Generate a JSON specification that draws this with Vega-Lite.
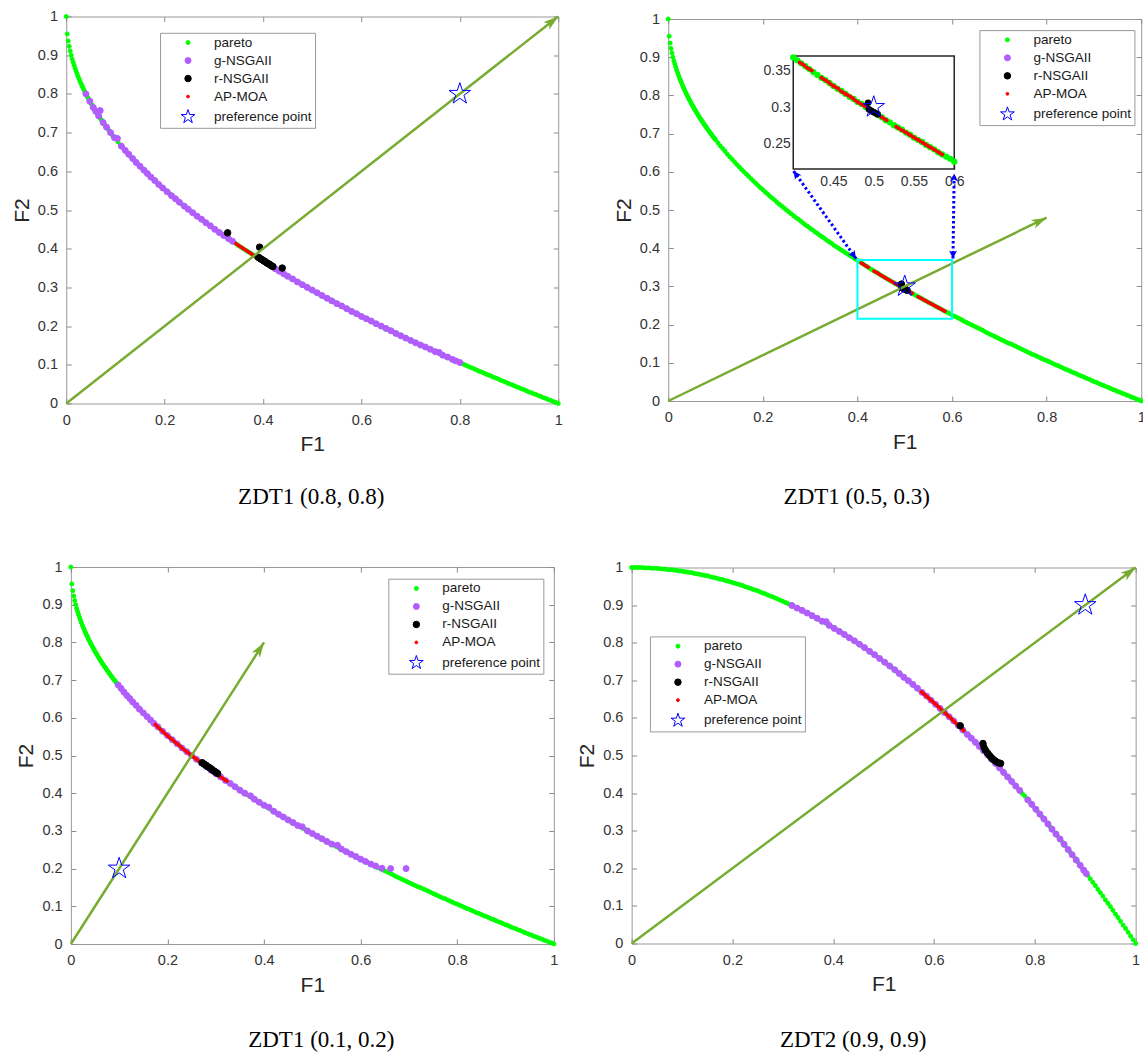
{
  "$schema": "https://vega.github.io/schema/vega-lite/v6.json",
  "background": "white",
  "padding": {"left": 10, "top": 7.5, "right": 0, "bottom": 0},
  "datasets": {
    "zdt1": [{"x":0,"y":1},{"x":0.002,"y":0.955},{"x":0.004,"y":0.937},{"x":0.006,"y":0.923},{"x":0.008,"y":0.911},{"x":0.01,"y":0.9},{"x":0.012,"y":0.89},{"x":0.014,"y":0.882},{"x":0.016,"y":0.874},{"x":0.018,"y":0.866},{"x":0.02,"y":0.859},{"x":0.022,"y":0.852},{"x":0.024,"y":0.845},{"x":0.026,"y":0.839},{"x":0.028,"y":0.833},{"x":0.03,"y":0.827},{"x":0.032,"y":0.821},{"x":0.034,"y":0.816},{"x":0.036,"y":0.81},{"x":0.038,"y":0.805},{"x":0.04,"y":0.8},{"x":0.042,"y":0.795},{"x":0.044,"y":0.79},{"x":0.046,"y":0.786},{"x":0.048,"y":0.781},{"x":0.05,"y":0.776},{"x":0.052,"y":0.772},{"x":0.054,"y":0.768},{"x":0.056,"y":0.763},{"x":0.058,"y":0.759},{"x":0.06,"y":0.755},{"x":0.062,"y":0.751},{"x":0.064,"y":0.747},{"x":0.066,"y":0.743},{"x":0.068,"y":0.739},{"x":0.07,"y":0.735},{"x":0.072,"y":0.732},{"x":0.074,"y":0.728},{"x":0.076,"y":0.724},{"x":0.078,"y":0.721},{"x":0.08,"y":0.717},{"x":0.082,"y":0.714},{"x":0.084,"y":0.71},{"x":0.086,"y":0.707},{"x":0.088,"y":0.703},{"x":0.09,"y":0.7},{"x":0.092,"y":0.697},{"x":0.094,"y":0.693},{"x":0.096,"y":0.69},{"x":0.098,"y":0.687},{"x":0.1,"y":0.684},{"x":0.105,"y":0.676},{"x":0.11,"y":0.668},{"x":0.115,"y":0.661},{"x":0.12,"y":0.654},{"x":0.125,"y":0.646},{"x":0.13,"y":0.639},{"x":0.135,"y":0.633},{"x":0.14,"y":0.626},{"x":0.145,"y":0.619},{"x":0.15,"y":0.613},{"x":0.155,"y":0.606},{"x":0.16,"y":0.6},{"x":0.165,"y":0.594},{"x":0.17,"y":0.588},{"x":0.175,"y":0.582},{"x":0.18,"y":0.576},{"x":0.185,"y":0.57},{"x":0.19,"y":0.564},{"x":0.195,"y":0.558},{"x":0.2,"y":0.553},{"x":0.205,"y":0.547},{"x":0.21,"y":0.542},{"x":0.215,"y":0.536},{"x":0.22,"y":0.531},{"x":0.225,"y":0.526},{"x":0.23,"y":0.52},{"x":0.235,"y":0.515},{"x":0.24,"y":0.51},{"x":0.245,"y":0.505},{"x":0.25,"y":0.5},{"x":0.255,"y":0.495},{"x":0.26,"y":0.49},{"x":0.265,"y":0.485},{"x":0.27,"y":0.48},{"x":0.275,"y":0.476},{"x":0.28,"y":0.471},{"x":0.285,"y":0.466},{"x":0.29,"y":0.461},{"x":0.295,"y":0.457},{"x":0.3,"y":0.452},{"x":0.305,"y":0.448},{"x":0.31,"y":0.443},{"x":0.315,"y":0.439},{"x":0.32,"y":0.434},{"x":0.325,"y":0.43},{"x":0.33,"y":0.426},{"x":0.335,"y":0.421},{"x":0.34,"y":0.417},{"x":0.345,"y":0.413},{"x":0.35,"y":0.408},{"x":0.355,"y":0.404},{"x":0.36,"y":0.4},{"x":0.365,"y":0.396},{"x":0.37,"y":0.392},{"x":0.375,"y":0.388},{"x":0.38,"y":0.384},{"x":0.385,"y":0.38},{"x":0.39,"y":0.376},{"x":0.395,"y":0.372},{"x":0.4,"y":0.368},{"x":0.405,"y":0.364},{"x":0.41,"y":0.36},{"x":0.415,"y":0.356},{"x":0.42,"y":0.352},{"x":0.425,"y":0.348},{"x":0.43,"y":0.344},{"x":0.435,"y":0.34},{"x":0.44,"y":0.337},{"x":0.445,"y":0.333},{"x":0.45,"y":0.329},{"x":0.455,"y":0.325},{"x":0.46,"y":0.322},{"x":0.465,"y":0.318},{"x":0.47,"y":0.314},{"x":0.475,"y":0.311},{"x":0.48,"y":0.307},{"x":0.485,"y":0.304},{"x":0.49,"y":0.3},{"x":0.495,"y":0.296},{"x":0.5,"y":0.293},{"x":0.505,"y":0.289},{"x":0.51,"y":0.286},{"x":0.515,"y":0.282},{"x":0.52,"y":0.279},{"x":0.525,"y":0.275},{"x":0.53,"y":0.272},{"x":0.535,"y":0.269},{"x":0.54,"y":0.265},{"x":0.545,"y":0.262},{"x":0.55,"y":0.258},{"x":0.555,"y":0.255},{"x":0.56,"y":0.252},{"x":0.565,"y":0.248},{"x":0.57,"y":0.245},{"x":0.575,"y":0.242},{"x":0.58,"y":0.238},{"x":0.585,"y":0.235},{"x":0.59,"y":0.232},{"x":0.595,"y":0.229},{"x":0.6,"y":0.225},{"x":0.605,"y":0.222},{"x":0.61,"y":0.219},{"x":0.615,"y":0.216},{"x":0.62,"y":0.213},{"x":0.625,"y":0.209},{"x":0.63,"y":0.206},{"x":0.635,"y":0.203},{"x":0.64,"y":0.2},{"x":0.645,"y":0.197},{"x":0.65,"y":0.194},{"x":0.655,"y":0.191},{"x":0.66,"y":0.188},{"x":0.665,"y":0.185},{"x":0.67,"y":0.181},{"x":0.675,"y":0.178},{"x":0.68,"y":0.175},{"x":0.685,"y":0.172},{"x":0.69,"y":0.169},{"x":0.695,"y":0.166},{"x":0.7,"y":0.163},{"x":0.705,"y":0.16},{"x":0.71,"y":0.157},{"x":0.715,"y":0.154},{"x":0.72,"y":0.151},{"x":0.725,"y":0.149},{"x":0.73,"y":0.146},{"x":0.735,"y":0.143},{"x":0.74,"y":0.14},{"x":0.745,"y":0.137},{"x":0.75,"y":0.134},{"x":0.755,"y":0.131},{"x":0.76,"y":0.128},{"x":0.765,"y":0.125},{"x":0.77,"y":0.122},{"x":0.775,"y":0.12},{"x":0.78,"y":0.117},{"x":0.785,"y":0.114},{"x":0.79,"y":0.111},{"x":0.795,"y":0.108},{"x":0.8,"y":0.106},{"x":0.805,"y":0.103},{"x":0.81,"y":0.1},{"x":0.815,"y":0.097},{"x":0.82,"y":0.094},{"x":0.825,"y":0.092},{"x":0.83,"y":0.089},{"x":0.835,"y":0.086},{"x":0.84,"y":0.083},{"x":0.845,"y":0.081},{"x":0.85,"y":0.078},{"x":0.855,"y":0.075},{"x":0.86,"y":0.073},{"x":0.865,"y":0.07},{"x":0.87,"y":0.067},{"x":0.875,"y":0.065},{"x":0.88,"y":0.062},{"x":0.885,"y":0.059},{"x":0.89,"y":0.057},{"x":0.895,"y":0.054},{"x":0.9,"y":0.051},{"x":0.905,"y":0.049},{"x":0.91,"y":0.046},{"x":0.915,"y":0.043},{"x":0.92,"y":0.041},{"x":0.925,"y":0.038},{"x":0.93,"y":0.036},{"x":0.935,"y":0.033},{"x":0.94,"y":0.03},{"x":0.945,"y":0.028},{"x":0.95,"y":0.025},{"x":0.955,"y":0.023},{"x":0.96,"y":0.02},{"x":0.965,"y":0.018},{"x":0.97,"y":0.015},{"x":0.975,"y":0.013},{"x":0.98,"y":0.01},{"x":0.985,"y":0.008},{"x":0.99,"y":0.005},{"x":0.995,"y":0.003},{"x":1,"y":0}],
    "zdt2": [{"x":0,"y":1},{"x":0.005,"y":1},{"x":0.01,"y":1},{"x":0.015,"y":1},{"x":0.02,"y":1},{"x":0.025,"y":0.999},{"x":0.03,"y":0.999},{"x":0.035,"y":0.999},{"x":0.04,"y":0.998},{"x":0.045,"y":0.998},{"x":0.05,"y":0.998},{"x":0.055,"y":0.997},{"x":0.06,"y":0.996},{"x":0.065,"y":0.996},{"x":0.07,"y":0.995},{"x":0.075,"y":0.994},{"x":0.08,"y":0.994},{"x":0.085,"y":0.993},{"x":0.09,"y":0.992},{"x":0.095,"y":0.991},{"x":0.1,"y":0.99},{"x":0.105,"y":0.989},{"x":0.11,"y":0.988},{"x":0.115,"y":0.987},{"x":0.12,"y":0.986},{"x":0.125,"y":0.984},{"x":0.13,"y":0.983},{"x":0.135,"y":0.982},{"x":0.14,"y":0.98},{"x":0.145,"y":0.979},{"x":0.15,"y":0.978},{"x":0.155,"y":0.976},{"x":0.16,"y":0.974},{"x":0.165,"y":0.973},{"x":0.17,"y":0.971},{"x":0.175,"y":0.969},{"x":0.18,"y":0.968},{"x":0.185,"y":0.966},{"x":0.19,"y":0.964},{"x":0.195,"y":0.962},{"x":0.2,"y":0.96},{"x":0.205,"y":0.958},{"x":0.21,"y":0.956},{"x":0.215,"y":0.954},{"x":0.22,"y":0.952},{"x":0.225,"y":0.949},{"x":0.23,"y":0.947},{"x":0.235,"y":0.945},{"x":0.24,"y":0.942},{"x":0.245,"y":0.94},{"x":0.25,"y":0.938},{"x":0.255,"y":0.935},{"x":0.26,"y":0.932},{"x":0.265,"y":0.93},{"x":0.27,"y":0.927},{"x":0.275,"y":0.924},{"x":0.28,"y":0.922},{"x":0.285,"y":0.919},{"x":0.29,"y":0.916},{"x":0.295,"y":0.913},{"x":0.3,"y":0.91},{"x":0.305,"y":0.907},{"x":0.31,"y":0.904},{"x":0.315,"y":0.901},{"x":0.32,"y":0.898},{"x":0.325,"y":0.894},{"x":0.33,"y":0.891},{"x":0.335,"y":0.888},{"x":0.34,"y":0.884},{"x":0.345,"y":0.881},{"x":0.35,"y":0.878},{"x":0.355,"y":0.874},{"x":0.36,"y":0.87},{"x":0.365,"y":0.867},{"x":0.37,"y":0.863},{"x":0.375,"y":0.859},{"x":0.38,"y":0.856},{"x":0.385,"y":0.852},{"x":0.39,"y":0.848},{"x":0.395,"y":0.844},{"x":0.4,"y":0.84},{"x":0.405,"y":0.836},{"x":0.41,"y":0.832},{"x":0.415,"y":0.828},{"x":0.42,"y":0.824},{"x":0.425,"y":0.819},{"x":0.43,"y":0.815},{"x":0.435,"y":0.811},{"x":0.44,"y":0.806},{"x":0.445,"y":0.802},{"x":0.45,"y":0.798},{"x":0.455,"y":0.793},{"x":0.46,"y":0.788},{"x":0.465,"y":0.784},{"x":0.47,"y":0.779},{"x":0.475,"y":0.774},{"x":0.48,"y":0.77},{"x":0.485,"y":0.765},{"x":0.49,"y":0.76},{"x":0.495,"y":0.755},{"x":0.5,"y":0.75},{"x":0.505,"y":0.745},{"x":0.51,"y":0.74},{"x":0.515,"y":0.735},{"x":0.52,"y":0.73},{"x":0.525,"y":0.724},{"x":0.53,"y":0.719},{"x":0.535,"y":0.714},{"x":0.54,"y":0.708},{"x":0.545,"y":0.703},{"x":0.55,"y":0.698},{"x":0.555,"y":0.692},{"x":0.56,"y":0.686},{"x":0.565,"y":0.681},{"x":0.57,"y":0.675},{"x":0.575,"y":0.669},{"x":0.58,"y":0.664},{"x":0.585,"y":0.658},{"x":0.59,"y":0.652},{"x":0.595,"y":0.646},{"x":0.6,"y":0.64},{"x":0.605,"y":0.634},{"x":0.61,"y":0.628},{"x":0.615,"y":0.622},{"x":0.62,"y":0.616},{"x":0.625,"y":0.609},{"x":0.63,"y":0.603},{"x":0.635,"y":0.597},{"x":0.64,"y":0.59},{"x":0.645,"y":0.584},{"x":0.65,"y":0.578},{"x":0.655,"y":0.571},{"x":0.66,"y":0.564},{"x":0.665,"y":0.558},{"x":0.67,"y":0.551},{"x":0.675,"y":0.544},{"x":0.68,"y":0.538},{"x":0.685,"y":0.531},{"x":0.69,"y":0.524},{"x":0.695,"y":0.517},{"x":0.7,"y":0.51},{"x":0.705,"y":0.503},{"x":0.71,"y":0.496},{"x":0.715,"y":0.489},{"x":0.72,"y":0.482},{"x":0.725,"y":0.474},{"x":0.73,"y":0.467},{"x":0.735,"y":0.46},{"x":0.74,"y":0.452},{"x":0.745,"y":0.445},{"x":0.75,"y":0.438},{"x":0.755,"y":0.43},{"x":0.76,"y":0.422},{"x":0.765,"y":0.415},{"x":0.77,"y":0.407},{"x":0.775,"y":0.399},{"x":0.78,"y":0.392},{"x":0.785,"y":0.384},{"x":0.79,"y":0.376},{"x":0.795,"y":0.368},{"x":0.8,"y":0.36},{"x":0.805,"y":0.352},{"x":0.81,"y":0.344},{"x":0.815,"y":0.336},{"x":0.82,"y":0.328},{"x":0.825,"y":0.319},{"x":0.83,"y":0.311},{"x":0.835,"y":0.303},{"x":0.84,"y":0.294},{"x":0.845,"y":0.286},{"x":0.85,"y":0.278},{"x":0.855,"y":0.269},{"x":0.86,"y":0.26},{"x":0.865,"y":0.252},{"x":0.87,"y":0.243},{"x":0.875,"y":0.234},{"x":0.88,"y":0.226},{"x":0.885,"y":0.217},{"x":0.89,"y":0.208},{"x":0.895,"y":0.199},{"x":0.9,"y":0.19},{"x":0.905,"y":0.181},{"x":0.91,"y":0.172},{"x":0.915,"y":0.163},{"x":0.92,"y":0.154},{"x":0.925,"y":0.144},{"x":0.93,"y":0.135},{"x":0.935,"y":0.126},{"x":0.94,"y":0.116},{"x":0.945,"y":0.107},{"x":0.95,"y":0.098},{"x":0.955,"y":0.088},{"x":0.96,"y":0.078},{"x":0.965,"y":0.069},{"x":0.97,"y":0.059},{"x":0.975,"y":0.049},{"x":0.98,"y":0.04},{"x":0.985,"y":0.03},{"x":0.99,"y":0.02},{"x":0.995,"y":0.01},{"x":1,"y":0}],
    "zdt1_05_03_apmoa": [{"x":0.408,"y":0.361},{"x":0.411,"y":0.359},{"x":0.414,"y":0.357},{"x":0.417,"y":0.354},{"x":0.42,"y":0.352},{"x":0.423,"y":0.35},{"x":0.435,"y":0.34},{"x":0.438,"y":0.338},{"x":0.441,"y":0.336},{"x":0.444,"y":0.334},{"x":0.447,"y":0.331},{"x":0.45,"y":0.329},{"x":0.453,"y":0.327},{"x":0.456,"y":0.325},{"x":0.459,"y":0.322},{"x":0.462,"y":0.32},{"x":0.465,"y":0.318},{"x":0.468,"y":0.316},{"x":0.471,"y":0.314},{"x":0.474,"y":0.312},{"x":0.477,"y":0.309},{"x":0.48,"y":0.307},{"x":0.483,"y":0.305},{"x":0.486,"y":0.303},{"x":0.489,"y":0.301},{"x":0.492,"y":0.299},{"x":0.495,"y":0.296},{"x":0.498,"y":0.294},{"x":0.501,"y":0.292},{"x":0.504,"y":0.29},{"x":0.507,"y":0.288},{"x":0.51,"y":0.286},{"x":0.513,"y":0.284},{"x":0.516,"y":0.282},{"x":0.528,"y":0.273},{"x":0.531,"y":0.271},{"x":0.534,"y":0.269},{"x":0.537,"y":0.267},{"x":0.54,"y":0.265},{"x":0.543,"y":0.263},{"x":0.546,"y":0.261},{"x":0.549,"y":0.259},{"x":0.552,"y":0.257},{"x":0.555,"y":0.255},{"x":0.558,"y":0.253},{"x":0.561,"y":0.251},{"x":0.564,"y":0.249},{"x":0.567,"y":0.247},{"x":0.57,"y":0.245},{"x":0.573,"y":0.243},{"x":0.576,"y":0.241},{"x":0.579,"y":0.239},{"x":0.582,"y":0.237},{"x":0.585,"y":0.235}],
    "zdt1_05_03_rnsga": [{"x":0.493,"y":0.306},{"x":0.494,"y":0.297},{"x":0.497,"y":0.295},{"x":0.5,"y":0.293},{"x":0.503,"y":0.291},{"x":0.505,"y":0.29}],
    "zdt1_05_03_gnsga": [{"x":0.498,"y":0.294},{"x":0.502,"y":0.292}]
  },
  "vconcat": [
    {
      "hconcat": [
        {
          "width": 492, "height": 387,
          "title": {"text": "ZDT1 (0.8, 0.8)", "orient": "bottom", "anchor": "middle", "frame": "group", "offset": 31, "dx": -1},
          "layer": [
            {"data": {"name": "zdt1"}, "mark": {"type": "point", "filled": true, "opacity": 1, "strokeWidth": 1},
             "encoding": {
               "x": {"field": "x", "type": "quantitative", "scale": {"domain": [0, 1], "nice": false}, "axis": null},
               "y": {"field": "y", "type": "quantitative", "scale": {"domain": [0, 1], "nice": false}, "axis": null},
               "fill": {"datum": "pareto", "type": "nominal", "scale": {"domain": ["pareto","g-NSGAII","r-NSGAII","AP-MOA","preference point"], "range": ["#00ff00","#b35cff","#000000","#ff0000","transparent"]}, "legend": {"orient": "none", "legendX": 93.8, "legendY": 16.3, "title": null, "direction": "vertical"}},
               "stroke": {"datum": "pareto", "type": "nominal", "scale": {"domain": ["pareto","g-NSGAII","r-NSGAII","AP-MOA","preference point"], "range": ["#00ff00","#b35cff","#000000","#ff0000","#0000ff"]}, "legend": {"orient": "none", "legendX": 93.8, "legendY": 16.3, "title": null, "direction": "vertical"}},
               "shape": {"datum": "pareto", "type": "nominal", "scale": {"domain": ["pareto","g-NSGAII","r-NSGAII","AP-MOA","preference point"], "range": ["circle","circle","circle","circle","M0,-1L0.225,-0.309L0.951,-0.309L0.363,0.118L0.588,0.809L0,0.382L-0.588,0.809L-0.363,0.118L-0.951,-0.309L-0.225,-0.309Z"]}, "legend": {"orient": "none", "legendX": 93.8, "legendY": 16.3, "title": null, "direction": "vertical"}},
               "size": {"datum": "pareto", "type": "nominal", "scale": {"type": "ordinal", "domain": ["pareto","g-NSGAII","r-NSGAII","AP-MOA","preference point"], "range": [16,36,42,8,210]}, "legend": {"orient": "none", "legendX": 93.8, "legendY": 16.3, "title": null, "direction": "vertical"}}
             }},
            {"data": {"values": [{"x":0.04,"y":0.8},{"x":0.048,"y":0.781},{"x":0.055,"y":0.765},{"x":0.06,"y":0.755},{"x":0.066,"y":0.743},{"x":0.069,"y":0.757},{"x":0.075,"y":0.726},{"x":0.082,"y":0.714},{"x":0.09,"y":0.7},{"x":0.098,"y":0.687},{"x":0.104,"y":0.685},{"x":0.112,"y":0.665},{"x":0.12,"y":0.654},{"x":0.127,"y":0.644},{"x":0.135,"y":0.633},{"x":0.142,"y":0.623},{"x":0.15,"y":0.613},{"x":0.158,"y":0.603},{"x":0.165,"y":0.594},{"x":0.172,"y":0.585},{"x":0.18,"y":0.576},{"x":0.188,"y":0.566},{"x":0.196,"y":0.557},{"x":0.205,"y":0.547},{"x":0.214,"y":0.537},{"x":0.222,"y":0.529},{"x":0.23,"y":0.52},{"x":0.24,"y":0.51},{"x":0.248,"y":0.502},{"x":0.257,"y":0.493},{"x":0.266,"y":0.484},{"x":0.275,"y":0.476},{"x":0.284,"y":0.467},{"x":0.293,"y":0.459},{"x":0.302,"y":0.45},{"x":0.311,"y":0.442},{"x":0.32,"y":0.434},{"x":0.33,"y":0.426},{"x":0.338,"y":0.419},{"x":0.425,"y":0.348},{"x":0.433,"y":0.342},{"x":0.442,"y":0.335},{"x":0.45,"y":0.329},{"x":0.46,"y":0.322},{"x":0.47,"y":0.314},{"x":0.48,"y":0.307},{"x":0.49,"y":0.3},{"x":0.5,"y":0.293},{"x":0.51,"y":0.286},{"x":0.52,"y":0.279},{"x":0.53,"y":0.272},{"x":0.54,"y":0.265},{"x":0.55,"y":0.258},{"x":0.56,"y":0.252},{"x":0.57,"y":0.245},{"x":0.58,"y":0.238},{"x":0.59,"y":0.232},{"x":0.6,"y":0.225},{"x":0.61,"y":0.219},{"x":0.62,"y":0.213},{"x":0.63,"y":0.206},{"x":0.64,"y":0.2},{"x":0.65,"y":0.194},{"x":0.66,"y":0.188},{"x":0.67,"y":0.181},{"x":0.68,"y":0.175},{"x":0.69,"y":0.169},{"x":0.7,"y":0.163},{"x":0.71,"y":0.157},{"x":0.72,"y":0.151},{"x":0.73,"y":0.146},{"x":0.74,"y":0.14},{"x":0.75,"y":0.134},{"x":0.758,"y":0.132},{"x":0.765,"y":0.125},{"x":0.775,"y":0.12},{"x":0.785,"y":0.114},{"x":0.792,"y":0.11},{"x":0.8,"y":0.106}]},
             "mark": {"type": "point", "filled": true, "opacity": 1, "strokeWidth": 1},
             "encoding": {"x": {"field": "x", "type": "quantitative", "axis": null}, "y": {"field": "y", "type": "quantitative", "axis": null},
               "fill": {"datum": "g-NSGAII", "type": "nominal"}, "stroke": {"datum": "g-NSGAII", "type": "nominal"}, "shape": {"datum": "g-NSGAII", "type": "nominal"},
               "size": {"datum": "g-NSGAII", "type": "nominal", "scale": {"type": "ordinal", "domain": ["pareto","g-NSGAII","r-NSGAII","AP-MOA","preference point"], "range": [16,36,42,8,210]}}}},
            {"data": {"values": [{"x":0.345,"y":0.413},{"x":0.348,"y":0.41},{"x":0.351,"y":0.408},{"x":0.354,"y":0.405},{"x":0.357,"y":0.403},{"x":0.36,"y":0.4},{"x":0.363,"y":0.398},{"x":0.366,"y":0.395},{"x":0.369,"y":0.393},{"x":0.372,"y":0.39},{"x":0.375,"y":0.388},{"x":0.378,"y":0.385},{"x":0.381,"y":0.383},{"x":0.384,"y":0.38},{"x":0.387,"y":0.378},{"x":0.39,"y":0.376},{"x":0.393,"y":0.373},{"x":0.396,"y":0.371},{"x":0.399,"y":0.368},{"x":0.402,"y":0.366},{"x":0.405,"y":0.364},{"x":0.408,"y":0.361},{"x":0.411,"y":0.359},{"x":0.414,"y":0.357},{"x":0.417,"y":0.354},{"x":0.42,"y":0.352},{"x":0.423,"y":0.35}]},
             "mark": {"type": "point", "filled": true, "opacity": 1, "strokeWidth": 1},
             "encoding": {"x": {"field": "x", "type": "quantitative", "axis": null}, "y": {"field": "y", "type": "quantitative", "axis": null},
               "fill": {"datum": "AP-MOA", "type": "nominal"}, "stroke": {"datum": "AP-MOA", "type": "nominal"}, "shape": {"datum": "AP-MOA", "type": "nominal"},
               "size": {"datum": "AP-MOA", "type": "nominal", "scale": {"type": "ordinal", "domain": ["pareto","g-NSGAII","r-NSGAII","AP-MOA","preference point"], "range": [16,36,42,8,210]}}}},
            {"data": {"values": [{"x":0.328,"y":0.441},{"x":0.393,"y":0.404},{"x":0.439,"y":0.35},{"x":0.39,"y":0.378},{"x":0.393,"y":0.376},{"x":0.396,"y":0.373},{"x":0.399,"y":0.371},{"x":0.402,"y":0.368},{"x":0.405,"y":0.366},{"x":0.408,"y":0.363},{"x":0.411,"y":0.361},{"x":0.414,"y":0.359},{"x":0.417,"y":0.356},{"x":0.42,"y":0.354}]},
             "mark": {"type": "point", "filled": true, "opacity": 1, "strokeWidth": 1},
             "encoding": {"x": {"field": "x", "type": "quantitative", "axis": null}, "y": {"field": "y", "type": "quantitative", "axis": null},
               "fill": {"datum": "r-NSGAII", "type": "nominal"}, "stroke": {"datum": "r-NSGAII", "type": "nominal"}, "shape": {"datum": "r-NSGAII", "type": "nominal"},
               "size": {"datum": "r-NSGAII", "type": "nominal", "scale": {"type": "ordinal", "domain": ["pareto","g-NSGAII","r-NSGAII","AP-MOA","preference point"], "range": [16,36,42,8,210]}}}},
            {"data": {"values": [{"x":0,"y":0},{"x":1,"y":1}]},
             "mark": {"type": "line", "color": "#77ac30", "strokeWidth": 2.5},
             "encoding": {
               "x": {"field": "x", "type": "quantitative", "axis": {"orient": "bottom", "values": [0,0.2,0.4,0.6,0.8,1], "format": "~g", "title": "F1", "tickSize": -5, "labelPadding": 14.5, "titlePadding": 7}},
               "y": {"field": "y", "type": "quantitative", "axis": {"orient": "left", "values": [0,0.1,0.2,0.3,0.4,0.5,0.6,0.7,0.8,0.9,1], "format": "~g", "title": "F2", "tickSize": -5, "labelPadding": 13.7, "titlePadding": 5}}}},
            {"data": {"values": [{"x":1,"y":1}]},
             "mark": {"type": "point", "shape": "M0,0L0.6,1.9L0,1.4L-0.6,1.9Z", "size": 256, "angle": 51.8, "filled": true, "color": "#77ac30", "opacity": 1, "strokeWidth": 0},
             "encoding": {
               "x": {"field": "x", "type": "quantitative", "axis": {"orient": "top", "values": [0,0.2,0.4,0.6,0.8,1], "labels": false, "title": null, "tickSize": -5, "minExtent": 0}},
               "y": {"field": "y", "type": "quantitative", "axis": {"orient": "right", "values": [0,0.1,0.2,0.3,0.4,0.5,0.6,0.7,0.8,0.9,1], "labels": false, "title": null, "tickSize": -5, "minExtent": 0}}}},
            {"data": {"values": [{"x":0.8,"y":0.8}]},
             "mark": {"type": "point", "filled": true, "opacity": 1, "size": 510, "strokeWidth": 1},
             "encoding": {"x": {"field": "x", "type": "quantitative", "axis": null}, "y": {"field": "y", "type": "quantitative", "axis": null},
               "fill": {"datum": "preference point", "type": "nominal"}, "stroke": {"datum": "preference point", "type": "nominal"}, "shape": {"datum": "preference point", "type": "nominal"}}}
          ],
          "resolve": {"axis": {"x": "independent", "y": "independent"}}
        },
        {
          "width": 473, "height": 382,
          "title": {"text": "ZDT1 (0.5, 0.3)", "orient": "bottom", "anchor": "middle", "frame": "group", "offset": 34, "dx": -48},
          "layer": [
            {
              "layer": [
                {"data": {"name": "zdt1"}, "mark": {"type": "point", "filled": true, "opacity": 1, "strokeWidth": 1},
                 "encoding": {
                   "x": {"field": "x", "type": "quantitative", "scale": {"domain": [0, 1], "nice": false}, "axis": null},
                   "y": {"field": "y", "type": "quantitative", "scale": {"domain": [0, 1], "nice": false}, "axis": null},
                   "fill": {"datum": "pareto", "type": "nominal", "scale": {"domain": ["pareto","g-NSGAII","r-NSGAII","AP-MOA","preference point"], "range": ["#00ff00","#b35cff","#000000","#ff0000","transparent"]}, "legend": {"orient": "none", "legendX": 311.2, "legendY": 11.1, "title": null, "direction": "vertical"}},
                   "stroke": {"datum": "pareto", "type": "nominal", "scale": {"domain": ["pareto","g-NSGAII","r-NSGAII","AP-MOA","preference point"], "range": ["#00ff00","#b35cff","#000000","#ff0000","#0000ff"]}, "legend": {"orient": "none", "legendX": 311.2, "legendY": 11.1, "title": null, "direction": "vertical"}},
                   "shape": {"datum": "pareto", "type": "nominal", "scale": {"domain": ["pareto","g-NSGAII","r-NSGAII","AP-MOA","preference point"], "range": ["circle","circle","circle","circle","M0,-1L0.225,-0.309L0.951,-0.309L0.363,0.118L0.588,0.809L0,0.382L-0.588,0.809L-0.363,0.118L-0.951,-0.309L-0.225,-0.309Z"]}, "legend": {"orient": "none", "legendX": 311.2, "legendY": 11.1, "title": null, "direction": "vertical"}},
                   "size": {"datum": "pareto", "type": "nominal", "scale": {"type": "ordinal", "domain": ["pareto","g-NSGAII","r-NSGAII","AP-MOA","preference point"], "range": [16,36,42,8,210]}, "legend": {"orient": "none", "legendX": 311.2, "legendY": 11.1, "title": null, "direction": "vertical"}}
                 }},
                {"data": {"name": "zdt1_05_03_gnsga"},
                 "mark": {"type": "point", "filled": true, "opacity": 1, "strokeWidth": 1},
                 "encoding": {"x": {"field": "x", "type": "quantitative", "axis": null}, "y": {"field": "y", "type": "quantitative", "axis": null},
                   "fill": {"datum": "g-NSGAII", "type": "nominal"}, "stroke": {"datum": "g-NSGAII", "type": "nominal"}, "shape": {"datum": "g-NSGAII", "type": "nominal"},
                   "size": {"datum": "g-NSGAII", "type": "nominal", "scale": {"type": "ordinal", "domain": ["pareto","g-NSGAII","r-NSGAII","AP-MOA","preference point"], "range": [16,36,42,8,210]}}}},
                {"data": {"name": "zdt1_05_03_apmoa"},
                 "mark": {"type": "point", "filled": true, "opacity": 1, "strokeWidth": 1},
                 "encoding": {"x": {"field": "x", "type": "quantitative", "axis": null}, "y": {"field": "y", "type": "quantitative", "axis": null},
                   "fill": {"datum": "AP-MOA", "type": "nominal"}, "stroke": {"datum": "AP-MOA", "type": "nominal"}, "shape": {"datum": "AP-MOA", "type": "nominal"},
                   "size": {"datum": "AP-MOA", "type": "nominal", "scale": {"type": "ordinal", "domain": ["pareto","g-NSGAII","r-NSGAII","AP-MOA","preference point"], "range": [16,36,42,8,210]}}}},
                {"data": {"name": "zdt1_05_03_rnsga"},
                 "mark": {"type": "point", "filled": true, "opacity": 1, "strokeWidth": 1},
                 "encoding": {"x": {"field": "x", "type": "quantitative", "axis": null}, "y": {"field": "y", "type": "quantitative", "axis": null},
                   "fill": {"datum": "r-NSGAII", "type": "nominal"}, "stroke": {"datum": "r-NSGAII", "type": "nominal"}, "shape": {"datum": "r-NSGAII", "type": "nominal"},
                   "size": {"datum": "r-NSGAII", "type": "nominal", "scale": {"type": "ordinal", "domain": ["pareto","g-NSGAII","r-NSGAII","AP-MOA","preference point"], "range": [16,36,42,8,210]}}}},
                {"data": {"values": [{"x":0,"y":0},{"x":0.8,"y":0.48}]},
                 "mark": {"type": "line", "color": "#77ac30", "strokeWidth": 2.5},
                 "encoding": {
                   "x": {"field": "x", "type": "quantitative", "axis": {"orient": "bottom", "values": [0,0.2,0.4,0.6,0.8,1], "format": "~g", "title": "F1", "tickSize": -5, "labelPadding": 14.5, "titlePadding": 7}},
                   "y": {"field": "y", "type": "quantitative", "axis": {"orient": "left", "values": [0,0.1,0.2,0.3,0.4,0.5,0.6,0.7,0.8,0.9,1], "format": "~g", "title": "F2", "tickSize": -5, "labelPadding": 13.7, "titlePadding": 5}}}},
                {"data": {"values": [{"x":0.8,"y":0.48}]},
                 "mark": {"type": "point", "shape": "M0,0L0.6,1.9L0,1.4L-0.6,1.9Z", "size": 256, "angle": 64.1, "filled": true, "color": "#77ac30", "opacity": 1, "strokeWidth": 0},
                 "encoding": {
                   "x": {"field": "x", "type": "quantitative", "axis": {"orient": "top", "values": [0,0.2,0.4,0.6,0.8,1], "labels": false, "title": null, "tickSize": -5, "minExtent": 0}},
                   "y": {"field": "y", "type": "quantitative", "axis": {"orient": "right", "values": [0,0.1,0.2,0.3,0.4,0.5,0.6,0.7,0.8,0.9,1], "labels": false, "title": null, "tickSize": -5, "minExtent": 0}}}},
                {"data": {"values": [{"x":0.5,"y":0.3}]},
                 "mark": {"type": "point", "filled": true, "opacity": 1, "size": 510, "strokeWidth": 1},
                 "encoding": {"x": {"field": "x", "type": "quantitative", "axis": null}, "y": {"field": "y", "type": "quantitative", "axis": null},
                   "fill": {"datum": "preference point", "type": "nominal"}, "stroke": {"datum": "preference point", "type": "nominal"}, "shape": {"datum": "preference point", "type": "nominal"}}},
                {"data": {"values": [{"x":0.4,"x2":0.6,"y":0.215,"y2":0.369}]},
                 "mark": {"type": "rect", "filled": false, "stroke": "#00ffff", "strokeWidth": 2},
                 "encoding": {"x": {"field": "x", "type": "quantitative", "axis": null}, "x2": {"field": "x2"}, "y": {"field": "y", "type": "quantitative", "axis": null}, "y2": {"field": "y2"}}},
                {"data": {"values": [{"x":0.265,"y":0.602},{"x":0.397,"y":0.373}]},
                 "mark": {"type": "line", "color": "#0000ff", "strokeWidth": 3, "strokeDash": [2.5, 2.5]},
                 "encoding": {"x": {"field": "x", "type": "quantitative", "axis": null}, "y": {"field": "y", "type": "quantitative", "axis": null}}},
                {"data": {"values": [{"x":0.6045,"y":0.5955},{"x":0.602,"y":0.373}]},
                 "mark": {"type": "line", "color": "#0000ff", "strokeWidth": 3, "strokeDash": [2.5, 2.5]},
                 "encoding": {"x": {"field": "x", "type": "quantitative", "axis": null}, "y": {"field": "y", "type": "quantitative", "axis": null}}},
                {"data": {"values": [{"x":0.265,"y":0.602}]},
                 "mark": {"type": "point", "shape": "M0,0L0.8,1.6L0,1.2L-0.8,1.6Z", "size": 100, "angle": -35.6, "filled": true, "color": "#0000ff", "opacity": 1, "strokeWidth": 0},
                 "encoding": {"x": {"field": "x", "type": "quantitative", "axis": null}, "y": {"field": "y", "type": "quantitative", "axis": null}}},
                {"data": {"values": [{"x":0.397,"y":0.373}]},
                 "mark": {"type": "point", "shape": "M0,0L0.8,1.6L0,1.2L-0.8,1.6Z", "size": 100, "angle": 144.4, "filled": true, "color": "#0000ff", "opacity": 1, "strokeWidth": 0},
                 "encoding": {"x": {"field": "x", "type": "quantitative", "axis": null}, "y": {"field": "y", "type": "quantitative", "axis": null}}},
                {"data": {"values": [{"x":0.6045,"y":0.5955}]},
                 "mark": {"type": "point", "shape": "M0,0L0.8,1.6L0,1.2L-0.8,1.6Z", "size": 100, "angle": 0.7, "filled": true, "color": "#0000ff", "opacity": 1, "strokeWidth": 0},
                 "encoding": {"x": {"field": "x", "type": "quantitative", "axis": null}, "y": {"field": "y", "type": "quantitative", "axis": null}}},
                {"data": {"values": [{"x":0.602,"y":0.373}]},
                 "mark": {"type": "point", "shape": "M0,0L0.8,1.6L0,1.2L-0.8,1.6Z", "size": 100, "angle": 180.7, "filled": true, "color": "#0000ff", "opacity": 1, "strokeWidth": 0},
                 "encoding": {"x": {"field": "x", "type": "quantitative", "axis": null}, "y": {"field": "y", "type": "quantitative", "axis": null}}}
              ],
              "resolve": {"axis": {"x": "independent", "y": "independent"}}
            },
            {
              "layer": [
                {"data": {"values": [{"x":0.4,"x2":0.6,"y":0.215,"y2":0.37}]},
                 "mark": {"type": "rect", "fill": "#ffffff", "stroke": "#262626", "strokeWidth": 1.5},
                 "encoding": {
                   "x": {"field": "x", "type": "quantitative", "scale": {"domain": [0.4, 0.6], "range": [125, 286], "nice": false, "zero": false},
                         "axis": {"orient": "bottom", "offset": -232, "values": [0.45,0.5,0.55,0.6], "format": "~g", "title": null, "tickSize": -4, "labelPadding": 9, "labelFontSize": 14, "minExtent": 0, "tickColor": "#262626"}},
                   "x2": {"field": "x2"},
                   "y": {"field": "y", "type": "quantitative", "scale": {"domain": [0.215, 0.37], "range": [150, 37], "nice": false, "zero": false},
                         "axis": {"orient": "left", "offset": -125, "values": [0.25,0.3,0.35], "format": "~g", "title": null, "tickSize": -4, "labelPadding": 7, "labelFontSize": 14, "minExtent": 0, "tickColor": "#262626"}},
                   "y2": {"field": "y2"}}},
                {"data": {"name": "zdt1"}, "transform": [{"filter": "datum.x >= 0.4 && datum.x <= 0.6"}],
                 "mark": {"type": "point", "filled": true, "opacity": 1, "color": "#00ff00", "size": 40, "strokeWidth": 0},
                 "encoding": {"x": {"field": "x", "type": "quantitative"}, "y": {"field": "y", "type": "quantitative"}}},
                {"data": {"name": "zdt1_05_03_apmoa"},
                 "mark": {"type": "point", "filled": true, "opacity": 1, "color": "#ff0000", "size": 16, "strokeWidth": 0},
                 "encoding": {"x": {"field": "x", "type": "quantitative"}, "y": {"field": "y", "type": "quantitative"}}},
                {"data": {"name": "zdt1_05_03_gnsga"},
                 "mark": {"type": "point", "filled": true, "opacity": 1, "color": "#b35cff", "size": 40, "strokeWidth": 0},
                 "encoding": {"x": {"field": "x", "type": "quantitative"}, "y": {"field": "y", "type": "quantitative"}}},
                {"data": {"name": "zdt1_05_03_rnsga"},
                 "mark": {"type": "point", "filled": true, "opacity": 1, "color": "#000000", "size": 42, "strokeWidth": 0},
                 "encoding": {"x": {"field": "x", "type": "quantitative"}, "y": {"field": "y", "type": "quantitative"}}},
                {"data": {"values": [{"x":0.5,"y":0.3}]},
                 "mark": {"type": "point", "filled": false, "opacity": 1, "color": "#0000ff", "size": 510, "strokeWidth": 1, "shape": "M0,-1L0.225,-0.309L0.951,-0.309L0.363,0.118L0.588,0.809L0,0.382L-0.588,0.809L-0.363,0.118L-0.951,-0.309L-0.225,-0.309Z"},
                 "encoding": {"x": {"field": "x", "type": "quantitative"}, "y": {"field": "y", "type": "quantitative"}}}
              ]
            }
          ],
          "resolve": {"scale": {"x": "independent", "y": "independent"}}
        }
      ],
      "spacing": 110, "bounds": "flush", "align": "each", "center": true,
      "resolve": {"scale": {"fill": "independent", "stroke": "independent", "shape": "independent", "size": "independent"}}
    },
    {
      "hconcat": [
        {
          "width": 483, "height": 377,
          "title": {"text": "ZDT1 (0.1, 0.2)", "orient": "bottom", "anchor": "middle", "frame": "group", "offset": 34, "dx": 9},
          "layer": [
            {"data": {"name": "zdt1"}, "mark": {"type": "point", "filled": true, "opacity": 1, "strokeWidth": 1},
             "encoding": {
               "x": {"field": "x", "type": "quantitative", "scale": {"domain": [0, 1], "nice": false}, "axis": null},
               "y": {"field": "y", "type": "quantitative", "scale": {"domain": [0, 1], "nice": false}, "axis": null},
               "fill": {"datum": "pareto", "type": "nominal", "scale": {"domain": ["pareto","g-NSGAII","r-NSGAII","AP-MOA","preference point"], "range": ["#00ff00","#b35cff","#000000","#ff0000","transparent"]}, "legend": {"orient": "none", "legendX": 317.5, "legendY": 11.7, "title": null, "direction": "vertical"}},
               "stroke": {"datum": "pareto", "type": "nominal", "scale": {"domain": ["pareto","g-NSGAII","r-NSGAII","AP-MOA","preference point"], "range": ["#00ff00","#b35cff","#000000","#ff0000","#0000ff"]}, "legend": {"orient": "none", "legendX": 317.5, "legendY": 11.7, "title": null, "direction": "vertical"}},
               "shape": {"datum": "pareto", "type": "nominal", "scale": {"domain": ["pareto","g-NSGAII","r-NSGAII","AP-MOA","preference point"], "range": ["circle","circle","circle","circle","M0,-1L0.225,-0.309L0.951,-0.309L0.363,0.118L0.588,0.809L0,0.382L-0.588,0.809L-0.363,0.118L-0.951,-0.309L-0.225,-0.309Z"]}, "legend": {"orient": "none", "legendX": 317.5, "legendY": 11.7, "title": null, "direction": "vertical"}},
               "size": {"datum": "pareto", "type": "nominal", "scale": {"type": "ordinal", "domain": ["pareto","g-NSGAII","r-NSGAII","AP-MOA","preference point"], "range": [16,36,42,8,210]}, "legend": {"orient": "none", "legendX": 317.5, "legendY": 11.7, "title": null, "direction": "vertical"}}
             }},
            {"data": {"values": [{"x":0.098,"y":0.687},{"x":0.104,"y":0.678},{"x":0.11,"y":0.668},{"x":0.116,"y":0.659},{"x":0.122,"y":0.651},{"x":0.128,"y":0.642},{"x":0.135,"y":0.633},{"x":0.142,"y":0.623},{"x":0.15,"y":0.613},{"x":0.158,"y":0.603},{"x":0.165,"y":0.594},{"x":0.172,"y":0.585},{"x":0.18,"y":0.576},{"x":0.19,"y":0.564},{"x":0.2,"y":0.553},{"x":0.21,"y":0.542},{"x":0.22,"y":0.531},{"x":0.23,"y":0.52},{"x":0.24,"y":0.51},{"x":0.25,"y":0.5},{"x":0.26,"y":0.49},{"x":0.27,"y":0.48},{"x":0.28,"y":0.471},{"x":0.29,"y":0.461},{"x":0.3,"y":0.452},{"x":0.31,"y":0.443},{"x":0.32,"y":0.434},{"x":0.33,"y":0.426},{"x":0.34,"y":0.417},{"x":0.35,"y":0.408},{"x":0.36,"y":0.4},{"x":0.372,"y":0.393},{"x":0.38,"y":0.384},{"x":0.39,"y":0.376},{"x":0.4,"y":0.368},{"x":0.41,"y":0.363},{"x":0.42,"y":0.352},{"x":0.43,"y":0.344},{"x":0.44,"y":0.337},{"x":0.45,"y":0.329},{"x":0.46,"y":0.322},{"x":0.47,"y":0.314},{"x":0.479,"y":0.311},{"x":0.49,"y":0.3},{"x":0.5,"y":0.293},{"x":0.51,"y":0.286},{"x":0.52,"y":0.279},{"x":0.53,"y":0.272},{"x":0.54,"y":0.265},{"x":0.552,"y":0.262},{"x":0.56,"y":0.252},{"x":0.57,"y":0.245},{"x":0.58,"y":0.238},{"x":0.59,"y":0.232},{"x":0.6,"y":0.225},{"x":0.61,"y":0.219},{"x":0.621,"y":0.212},{"x":0.631,"y":0.207},{"x":0.644,"y":0.201},{"x":0.662,"y":0.2},{"x":0.694,"y":0.2}]},
             "mark": {"type": "point", "filled": true, "opacity": 1, "strokeWidth": 1},
             "encoding": {"x": {"field": "x", "type": "quantitative", "axis": null}, "y": {"field": "y", "type": "quantitative", "axis": null},
               "fill": {"datum": "g-NSGAII", "type": "nominal"}, "stroke": {"datum": "g-NSGAII", "type": "nominal"}, "shape": {"datum": "g-NSGAII", "type": "nominal"},
               "size": {"datum": "g-NSGAII", "type": "nominal", "scale": {"type": "ordinal", "domain": ["pareto","g-NSGAII","r-NSGAII","AP-MOA","preference point"], "range": [16,36,42,8,210]}}}},
            {"data": {"values": [{"x":0.175,"y":0.582},{"x":0.179,"y":0.577},{"x":0.183,"y":0.572},{"x":0.187,"y":0.568},{"x":0.191,"y":0.563},{"x":0.195,"y":0.558},{"x":0.199,"y":0.554},{"x":0.203,"y":0.549},{"x":0.207,"y":0.545},{"x":0.211,"y":0.541},{"x":0.215,"y":0.536},{"x":0.219,"y":0.532},{"x":0.223,"y":0.528},{"x":0.227,"y":0.524},{"x":0.231,"y":0.519},{"x":0.235,"y":0.515},{"x":0.239,"y":0.511},{"x":0.243,"y":0.507},{"x":0.247,"y":0.503},{"x":0.251,"y":0.499},{"x":0.255,"y":0.495},{"x":0.259,"y":0.491},{"x":0.263,"y":0.487},{"x":0.267,"y":0.483},{"x":0.271,"y":0.479},{"x":0.275,"y":0.476},{"x":0.279,"y":0.472},{"x":0.283,"y":0.468},{"x":0.287,"y":0.464},{"x":0.291,"y":0.461},{"x":0.295,"y":0.457},{"x":0.299,"y":0.453},{"x":0.303,"y":0.45},{"x":0.307,"y":0.446},{"x":0.311,"y":0.442},{"x":0.315,"y":0.439},{"x":0.319,"y":0.435},{"x":0.323,"y":0.432}]},
             "mark": {"type": "point", "filled": true, "opacity": 1, "strokeWidth": 1},
             "encoding": {"x": {"field": "x", "type": "quantitative", "axis": null}, "y": {"field": "y", "type": "quantitative", "axis": null},
               "fill": {"datum": "AP-MOA", "type": "nominal"}, "stroke": {"datum": "AP-MOA", "type": "nominal"}, "shape": {"datum": "AP-MOA", "type": "nominal"},
               "size": {"datum": "AP-MOA", "type": "nominal", "scale": {"type": "ordinal", "domain": ["pareto","g-NSGAII","r-NSGAII","AP-MOA","preference point"], "range": [16,36,42,8,210]}}}},
            {"data": {"values": [{"x":0.272,"y":0.481},{"x":0.276,"y":0.477},{"x":0.28,"y":0.474},{"x":0.284,"y":0.47},{"x":0.288,"y":0.467},{"x":0.292,"y":0.463},{"x":0.296,"y":0.459},{"x":0.3,"y":0.456},{"x":0.304,"y":0.452}]},
             "mark": {"type": "point", "filled": true, "opacity": 1, "strokeWidth": 1},
             "encoding": {"x": {"field": "x", "type": "quantitative", "axis": null}, "y": {"field": "y", "type": "quantitative", "axis": null},
               "fill": {"datum": "r-NSGAII", "type": "nominal"}, "stroke": {"datum": "r-NSGAII", "type": "nominal"}, "shape": {"datum": "r-NSGAII", "type": "nominal"},
               "size": {"datum": "r-NSGAII", "type": "nominal", "scale": {"type": "ordinal", "domain": ["pareto","g-NSGAII","r-NSGAII","AP-MOA","preference point"], "range": [16,36,42,8,210]}}}},
            {"data": {"values": [{"x":0,"y":0},{"x":0.4,"y":0.8}]},
             "mark": {"type": "line", "color": "#77ac30", "strokeWidth": 2.5},
             "encoding": {
               "x": {"field": "x", "type": "quantitative", "axis": {"orient": "bottom", "values": [0,0.2,0.4,0.6,0.8,1], "format": "~g", "title": "F1", "tickSize": -5, "labelPadding": 14.5, "titlePadding": 7}},
               "y": {"field": "y", "type": "quantitative", "axis": {"orient": "left", "values": [0,0.1,0.2,0.3,0.4,0.5,0.6,0.7,0.8,0.9,1], "format": "~g", "title": "F2", "tickSize": -5, "labelPadding": 13.7, "titlePadding": 5}}}},
            {"data": {"values": [{"x":0.4,"y":0.8}]},
             "mark": {"type": "point", "shape": "M0,0L0.6,1.9L0,1.4L-0.6,1.9Z", "size": 256, "angle": 32.6, "filled": true, "color": "#77ac30", "opacity": 1, "strokeWidth": 0},
             "encoding": {
               "x": {"field": "x", "type": "quantitative", "axis": {"orient": "top", "values": [0,0.2,0.4,0.6,0.8,1], "labels": false, "title": null, "tickSize": -5, "minExtent": 0}},
               "y": {"field": "y", "type": "quantitative", "axis": {"orient": "right", "values": [0,0.1,0.2,0.3,0.4,0.5,0.6,0.7,0.8,0.9,1], "labels": false, "title": null, "tickSize": -5, "minExtent": 0}}}},
            {"data": {"values": [{"x":0.1,"y":0.2}]},
             "mark": {"type": "point", "filled": true, "opacity": 1, "size": 510, "strokeWidth": 1},
             "encoding": {"x": {"field": "x", "type": "quantitative", "axis": null}, "y": {"field": "y", "type": "quantitative", "axis": null},
               "fill": {"datum": "preference point", "type": "nominal"}, "stroke": {"datum": "preference point", "type": "nominal"}, "shape": {"datum": "preference point", "type": "nominal"}}}
          ],
          "resolve": {"axis": {"x": "independent", "y": "independent"}}
        },
        {
          "width": 504, "height": 376,
          "title": {"text": "ZDT2 (0.9, 0.9)", "orient": "bottom", "anchor": "middle", "frame": "group", "offset": 34, "dx": -30.5},
          "layer": [
            {"data": {"name": "zdt2"}, "mark": {"type": "point", "filled": true, "opacity": 1, "strokeWidth": 1},
             "encoding": {
               "x": {"field": "x", "type": "quantitative", "scale": {"domain": [0, 1], "nice": false}, "axis": null},
               "y": {"field": "y", "type": "quantitative", "scale": {"domain": [0, 1], "nice": false}, "axis": null},
               "fill": {"datum": "pareto", "type": "nominal", "scale": {"domain": ["pareto","g-NSGAII","r-NSGAII","AP-MOA","preference point"], "range": ["#00ff00","#b35cff","#000000","#ff0000","transparent"]}, "legend": {"orient": "none", "legendX": 18.3, "legendY": 68.9, "title": null, "direction": "vertical"}},
               "stroke": {"datum": "pareto", "type": "nominal", "scale": {"domain": ["pareto","g-NSGAII","r-NSGAII","AP-MOA","preference point"], "range": ["#00ff00","#b35cff","#000000","#ff0000","#0000ff"]}, "legend": {"orient": "none", "legendX": 18.3, "legendY": 68.9, "title": null, "direction": "vertical"}},
               "shape": {"datum": "pareto", "type": "nominal", "scale": {"domain": ["pareto","g-NSGAII","r-NSGAII","AP-MOA","preference point"], "range": ["circle","circle","circle","circle","M0,-1L0.225,-0.309L0.951,-0.309L0.363,0.118L0.588,0.809L0,0.382L-0.588,0.809L-0.363,0.118L-0.951,-0.309L-0.225,-0.309Z"]}, "legend": {"orient": "none", "legendX": 18.3, "legendY": 68.9, "title": null, "direction": "vertical"}},
               "size": {"datum": "pareto", "type": "nominal", "scale": {"type": "ordinal", "domain": ["pareto","g-NSGAII","r-NSGAII","AP-MOA","preference point"], "range": [16,36,42,8,210]}, "legend": {"orient": "none", "legendX": 18.3, "legendY": 68.9, "title": null, "direction": "vertical"}}
             }},
            {"data": {"values": [{"x":0.318,"y":0.899},{"x":0.328,"y":0.892},{"x":0.338,"y":0.886},{"x":0.348,"y":0.879},{"x":0.358,"y":0.872},{"x":0.368,"y":0.865},{"x":0.378,"y":0.857},{"x":0.386,"y":0.856},{"x":0.392,"y":0.846},{"x":0.402,"y":0.838},{"x":0.412,"y":0.83},{"x":0.422,"y":0.822},{"x":0.432,"y":0.813},{"x":0.442,"y":0.805},{"x":0.452,"y":0.796},{"x":0.462,"y":0.787},{"x":0.472,"y":0.777},{"x":0.482,"y":0.768},{"x":0.492,"y":0.758},{"x":0.502,"y":0.748},{"x":0.512,"y":0.738},{"x":0.522,"y":0.728},{"x":0.531,"y":0.718},{"x":0.54,"y":0.708},{"x":0.549,"y":0.699},{"x":0.558,"y":0.689},{"x":0.567,"y":0.679},{"x":0.576,"y":0.668},{"x":0.585,"y":0.658},{"x":0.594,"y":0.647},{"x":0.603,"y":0.636},{"x":0.612,"y":0.625},{"x":0.621,"y":0.614},{"x":0.63,"y":0.603},{"x":0.639,"y":0.592},{"x":0.648,"y":0.58},{"x":0.657,"y":0.568},{"x":0.666,"y":0.556},{"x":0.674,"y":0.546},{"x":0.682,"y":0.535},{"x":0.69,"y":0.524},{"x":0.698,"y":0.513},{"x":0.706,"y":0.502},{"x":0.714,"y":0.49},{"x":0.722,"y":0.479},{"x":0.73,"y":0.467},{"x":0.738,"y":0.455},{"x":0.746,"y":0.443},{"x":0.754,"y":0.431},{"x":0.762,"y":0.419},{"x":0.77,"y":0.407},{"x":0.786,"y":0.382},{"x":0.794,"y":0.37},{"x":0.802,"y":0.357},{"x":0.81,"y":0.344},{"x":0.818,"y":0.331},{"x":0.826,"y":0.318},{"x":0.834,"y":0.304},{"x":0.842,"y":0.291},{"x":0.85,"y":0.278},{"x":0.858,"y":0.264},{"x":0.866,"y":0.25},{"x":0.874,"y":0.236},{"x":0.882,"y":0.222},{"x":0.89,"y":0.208},{"x":0.897,"y":0.195},{"x":0.902,"y":0.186}]},
             "mark": {"type": "point", "filled": true, "opacity": 1, "strokeWidth": 1},
             "encoding": {"x": {"field": "x", "type": "quantitative", "axis": null}, "y": {"field": "y", "type": "quantitative", "axis": null},
               "fill": {"datum": "g-NSGAII", "type": "nominal"}, "stroke": {"datum": "g-NSGAII", "type": "nominal"}, "shape": {"datum": "g-NSGAII", "type": "nominal"},
               "size": {"datum": "g-NSGAII", "type": "nominal", "scale": {"type": "ordinal", "domain": ["pareto","g-NSGAII","r-NSGAII","AP-MOA","preference point"], "range": [16,36,42,8,210]}}}},
            {"data": {"values": [{"x":0.575,"y":0.669},{"x":0.578,"y":0.666},{"x":0.581,"y":0.662},{"x":0.584,"y":0.659},{"x":0.587,"y":0.655},{"x":0.59,"y":0.652},{"x":0.593,"y":0.648},{"x":0.596,"y":0.645},{"x":0.599,"y":0.641},{"x":0.602,"y":0.638},{"x":0.605,"y":0.634},{"x":0.608,"y":0.63},{"x":0.611,"y":0.627},{"x":0.614,"y":0.623},{"x":0.617,"y":0.619},{"x":0.62,"y":0.616},{"x":0.623,"y":0.612},{"x":0.626,"y":0.608},{"x":0.629,"y":0.604},{"x":0.632,"y":0.601},{"x":0.635,"y":0.597},{"x":0.638,"y":0.593},{"x":0.641,"y":0.589},{"x":0.644,"y":0.585},{"x":0.647,"y":0.581},{"x":0.65,"y":0.578},{"x":0.653,"y":0.574},{"x":0.656,"y":0.57},{"x":0.659,"y":0.566}]},
             "mark": {"type": "point", "filled": true, "opacity": 1, "strokeWidth": 1},
             "encoding": {"x": {"field": "x", "type": "quantitative", "axis": null}, "y": {"field": "y", "type": "quantitative", "axis": null},
               "fill": {"datum": "AP-MOA", "type": "nominal"}, "stroke": {"datum": "AP-MOA", "type": "nominal"}, "shape": {"datum": "AP-MOA", "type": "nominal"},
               "size": {"datum": "AP-MOA", "type": "nominal", "scale": {"type": "ordinal", "domain": ["pareto","g-NSGAII","r-NSGAII","AP-MOA","preference point"], "range": [16,36,42,8,210]}}}},
            {"data": {"values": [{"x":0.652,"y":0.579},{"x":0.697,"y":0.532},{"x":0.699,"y":0.522},{"x":0.702,"y":0.514},{"x":0.706,"y":0.507},{"x":0.71,"y":0.5},{"x":0.714,"y":0.494},{"x":0.718,"y":0.489},{"x":0.722,"y":0.485},{"x":0.727,"y":0.481},{"x":0.732,"y":0.479}]},
             "mark": {"type": "point", "filled": true, "opacity": 1, "strokeWidth": 1},
             "encoding": {"x": {"field": "x", "type": "quantitative", "axis": null}, "y": {"field": "y", "type": "quantitative", "axis": null},
               "fill": {"datum": "r-NSGAII", "type": "nominal"}, "stroke": {"datum": "r-NSGAII", "type": "nominal"}, "shape": {"datum": "r-NSGAII", "type": "nominal"},
               "size": {"datum": "r-NSGAII", "type": "nominal", "scale": {"type": "ordinal", "domain": ["pareto","g-NSGAII","r-NSGAII","AP-MOA","preference point"], "range": [16,36,42,8,210]}}}},
            {"data": {"values": [{"x":0,"y":0},{"x":1,"y":1}]},
             "mark": {"type": "line", "color": "#77ac30", "strokeWidth": 2.5},
             "encoding": {
               "x": {"field": "x", "type": "quantitative", "axis": {"orient": "bottom", "values": [0,0.2,0.4,0.6,0.8,1], "format": "~g", "title": "F1", "tickSize": -5, "labelPadding": 14.5, "titlePadding": 7}},
               "y": {"field": "y", "type": "quantitative", "axis": {"orient": "left", "values": [0,0.1,0.2,0.3,0.4,0.5,0.6,0.7,0.8,0.9,1], "format": "~g", "title": "F2", "tickSize": -5, "labelPadding": 13.7, "titlePadding": 5}}}},
            {"data": {"values": [{"x":1,"y":1}]},
             "mark": {"type": "point", "shape": "M0,0L0.6,1.9L0,1.4L-0.6,1.9Z", "size": 256, "angle": 53.3, "filled": true, "color": "#77ac30", "opacity": 1, "strokeWidth": 0},
             "encoding": {
               "x": {"field": "x", "type": "quantitative", "axis": {"orient": "top", "values": [0,0.2,0.4,0.6,0.8,1], "labels": false, "title": null, "tickSize": -5, "minExtent": 0}},
               "y": {"field": "y", "type": "quantitative", "axis": {"orient": "right", "values": [0,0.1,0.2,0.3,0.4,0.5,0.6,0.7,0.8,0.9,1], "labels": false, "title": null, "tickSize": -5, "minExtent": 0}}}},
            {"data": {"values": [{"x":0.9,"y":0.9}]},
             "mark": {"type": "point", "filled": true, "opacity": 1, "size": 510, "strokeWidth": 1},
             "encoding": {"x": {"field": "x", "type": "quantitative", "axis": null}, "y": {"field": "y", "type": "quantitative", "axis": null},
               "fill": {"datum": "preference point", "type": "nominal"}, "stroke": {"datum": "preference point", "type": "nominal"}, "shape": {"datum": "preference point", "type": "nominal"}}}
          ],
          "resolve": {"axis": {"x": "independent", "y": "independent"}}
        }
      ],
      "spacing": 77.8, "bounds": "flush", "align": "each", "center": true,
      "resolve": {"scale": {"fill": "independent", "stroke": "independent", "shape": "independent", "size": "independent"}}
    }
  ],
  "spacing": 48.5, "bounds": "full", "align": "each", "center": true,
  "resolve": {"scale": {"fill": "independent", "stroke": "independent", "shape": "independent", "size": "independent"}},
  "config": {
    "view": {"stroke": "#999999", "strokeWidth": 1},
    "axis": {"labelFont": "Liberation Sans", "labelFontSize": 14.5, "labelColor": "#333333", "titleFont": "Liberation Sans", "titleFontSize": 21, "titleFontWeight": "normal", "titleColor": "#262626", "domain": false, "tickColor": "#8c8c8c", "tickWidth": 1, "grid": false, "labelFlush": false, "labelOverlap": false},
    "legend": {"labelFont": "Liberation Sans", "labelFontSize": 13.5, "labelColor": "#1a1a1a", "strokeColor": "#999999", "fillColor": "#ffffff", "padding": 3, "rowPadding": 3, "symbolOffset": 17, "labelOffset": 18, "symbolStrokeWidth": 1, "cornerRadius": 0, "labelLimit": 0},
    "title": {"font": "Liberation Serif", "fontSize": 23, "fontWeight": "normal", "color": "#000000"}
  }
}
